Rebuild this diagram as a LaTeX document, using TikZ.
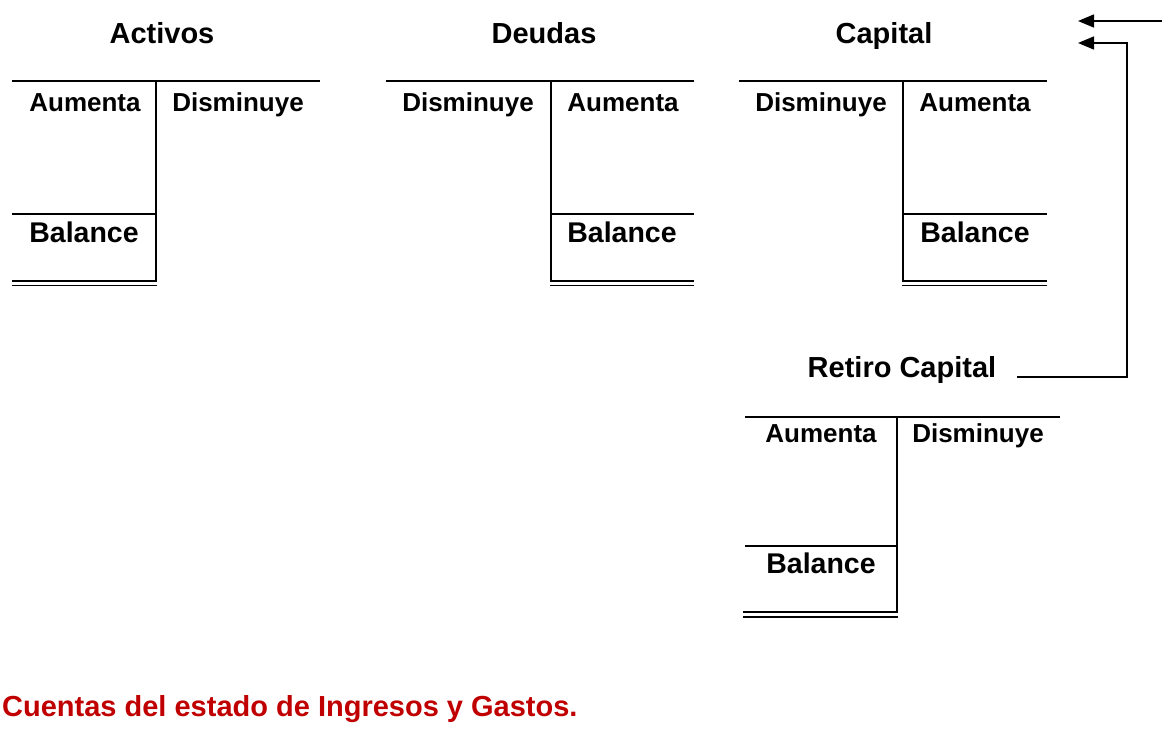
\documentclass[tikz,border=0pt]{standalone}
\usepackage{fontspec}
\setmainfont{Liberation Sans}
\usetikzlibrary{arrows.meta}
\definecolor{titlered}{HTML}{C00000}
\begin{document}
\begin{tikzpicture}[x=1pt,y=-1pt,
  hdr/.style={anchor=base,inner sep=0pt,font=\fontsize{29}{34}\selectfont\bfseries},
  lbl/.style={anchor=base,inner sep=0pt,font=\fontsize{26}{30}\selectfont\bfseries},
  bal/.style={anchor=base,inner sep=0pt,font=\fontsize{28.5}{32}\selectfont\bfseries},
  tline/.style={line width=2.2pt},
  dline/.style={line width=1.8pt},
  conn/.style={line width=1.5pt,-{Triangle[length=16pt,width=13pt]}}]
\useasboundingbox (0,0) rectangle (1162,731);
% Activos
\node[hdr] (hAct) at (162,43) {Activos};
\node[lbl] (aAct) at (85,111) {Aumenta};
\node[lbl] (dAct) at (238,111) {Disminuye};
\node[bal] (bAct) at (84,242) {Balance};
\draw[tline] (12,81) -- (320,81);
\draw[tline] (156,81) -- (156,281);
\draw[tline] (12,214) -- (156,214);
\draw[dline] (12,281) -- (157,281) (12,285.5) -- (157,285.5);
% Deudas
\node[hdr] (hDeu) at (544,43) {Deudas};
\node[lbl] (dDeu) at (468,111) {Disminuye};
\node[lbl] (aDeu) at (623,111) {Aumenta};
\node[bal] (bDeu) at (622,242) {Balance};
\draw[tline] (386,81) -- (694,81);
\draw[tline] (551,81) -- (551,281);
\draw[tline] (551,214) -- (694,214);
\draw[dline] (550,281) -- (694,281) (550,285.5) -- (694,285.5);
% Capital
\node[hdr] (hCap) at (884,43) {Capital};
\node[lbl] (dCap) at (821,111) {Disminuye};
\node[lbl] (aCap) at (975,111) {Aumenta};
\node[bal] (bCap) at (975,242) {Balance};
\draw[tline] (739,81) -- (1047,81);
\draw[tline] (903,81) -- (903,281);
\draw[tline] (903,214) -- (1047,214);
\draw[dline] (902,281) -- (1047,281) (902,285.5) -- (1047,285.5);
% Retiro Capital
\node[hdr] (hRet) at (902,377) {Retiro Capital};
\node[lbl] (aRet) at (821,442) {Aumenta};
\node[lbl] (dRet) at (978,442) {Disminuye};
\node[bal] (bRet) at (821,573) {Balance};
\draw[tline] (745,417) -- (1060,417);
\draw[tline] (897,417) -- (897,612);
\draw[tline] (745,546) -- (897,546);
\draw[dline] (743,612) -- (898,612) (743,617) -- (898,617);
% connectors
\coordinate (src0) at (1162,21);
\coordinate (tip0) at (1078,21);
\coordinate (tip1) at (1078,43);
\coordinate (bend) at (1127,377);
\draw[conn] (src0) -- (tip0);
\draw[conn] ([xshift=21pt]hRet.base east) -- (bend) -- (bend |- tip1) -- (tip1);
% title
\node[anchor=base west,inner sep=0pt,text=titlered,font=\fontsize{29}{34}\selectfont\bfseries] (title) at (2,716) {Cuentas del estado de Ingresos y Gastos.};
\end{tikzpicture}
\end{document}
